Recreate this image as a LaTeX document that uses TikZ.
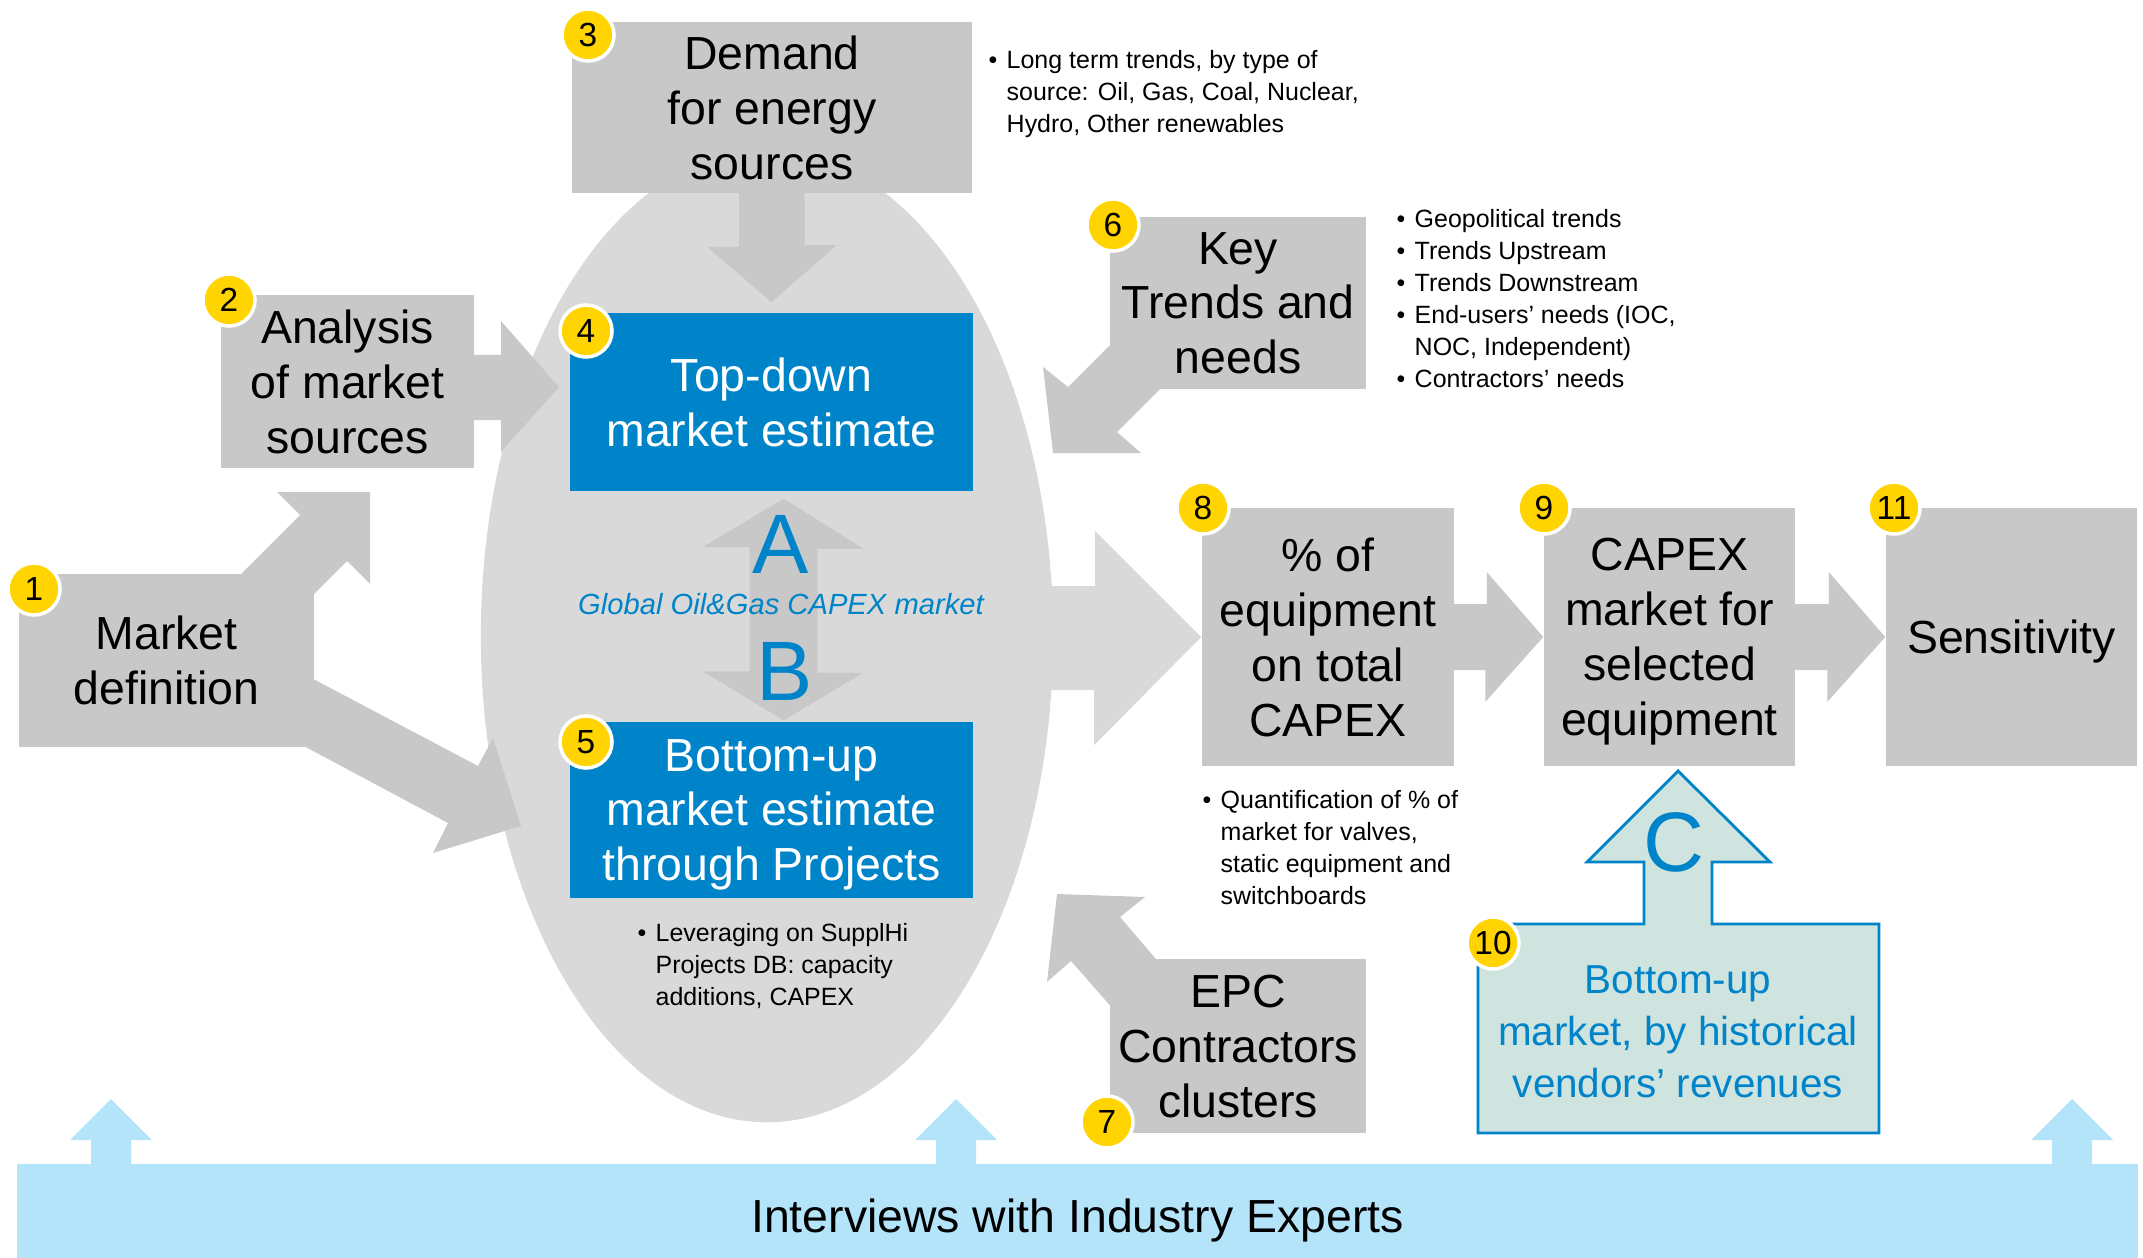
\documentclass[tikz,border=0pt]{standalone}
\usepackage{fontspec}
\setmainfont{Liberation Sans}
\usetikzlibrary{shapes.geometric,calc}

\definecolor{boxgray}{RGB}{200,200,200}
\definecolor{ellgray}{RGB}{217,217,217}
\definecolor{estblue}{RGB}{0,132,201}
\definecolor{numyellow}{RGB}{255,212,0}
\definecolor{bandblue}{RGB}{180,228,250}
\definecolor{tealfill}{RGB}{207,227,223}

\newcommand{\bigtxt}{\fontsize{13.2}{15.6}\selectfont}
\newcommand{\midtxt}{\fontsize{11.5}{14.8}\selectfont}
\newcommand{\notetxt}{\fontsize{7.1}{9.1}\selectfont}
\newcommand{\numtxt}{\fontsize{9.5}{11}\selectfont}
\newcommand{\lettxt}{\fontsize{24}{26}\selectfont}
\newcommand{\itm}{\makebox[0.18cm][l]{\textbullet}}
\newcommand{\ind}{\hspace*{0.18cm}}

\begin{document}
\begin{tikzpicture}[x=0.01cm, y=-0.01cm,
    box/.style={fill=boxgray, inner sep=0, align=center, font=\bigtxt, text depth=0pt},
    estbox/.style={fill=estblue, text=white, inner sep=0, align=center, font=\bigtxt, text depth=0pt},
    num/.style={circle, fill=numyellow, draw=white, line width=1pt, minimum size=0.52cm, inner sep=0, font=\numtxt},
    note/.style={anchor=north west, align=left, inner sep=0, font=\notetxt},
    blk/.style={fill=boxgray},
    lettr/.style={text=estblue, font=\lettxt, inner sep=0}]

    \useasboundingbox (0,0) rectangle (2143,1258);

    % Global estimate (middle)
    \node[ellipse, fill=ellgray, minimum width=5.72cm, minimum height=9.72cm, inner sep=0, outer sep=0] (est) at (767,636) {};

    \node[estbox, minimum width=4.03cm, minimum height=1.78cm] (topdown) at (771.5,402) {Top-down\\market estimate};
    \node[estbox, minimum width=4.03cm, minimum height=1.76cm] (bottomup) at (771.5,810) {Bottom-up\\market estimate\\through Projects};

    \fill[blk] ($(topdown.south)+(12,7)$) -- ++(80,50) -- ++(-46,0) -- ++(0,124) -- ++(46,0)
        -- ($(bottomup.north)+(12,-1)$) -- ++(-81,-49) -- ++(47,0) -- ++(0,-124) -- ++(-47,0) -- cycle;
    \node[lettr] (la) at (781,544) {A};
    \node[lettr] (lb) at (785,671) {B};
    \node[text=estblue, font=\fontsize{8.3}{10}\selectfont\itshape, inner sep=0] (glob) at (781,604) {Global Oil\&Gas CAPEX market};

    % Block arrows
    \fill[blk] (241,600) -- (241,574) -- (300,515) -- (277,492) -- (370,492) -- (370,584) -- (347,561) -- (314,594) -- (300,600) -- cycle;
    \fill[blk] (300,672) -- (478,766) -- (493,738) -- (521,826) -- (433,853) -- (448,823) -- (300,744) -- cycle;
    \fill[blk] (460,355) -- (501,355) -- (501,321) -- (559,387) -- (501,452) -- (501,420) -- (460,420) -- cycle;
    \fill[blk] (1120,335) -- (1068,387) -- (1043,367) -- (1053,453) -- (1141,453) -- (1117,432) -- (1170,379) -- cycle;
    \fill[blk] (1057,894) -- (1145,897) -- (1120,917) -- (1174,980) -- (1128,1026) -- (1071,961) -- (1047,982) -- cycle;

    % Boxes
    \node[box, minimum width=2.95cm, minimum height=1.73cm] (mdef) at (166.5,660.5) {Market\\definition};
    \node[box, minimum width=2.53cm, minimum height=1.73cm] (anal) at (347.5,381.5) {Analysis\\of market\\sources};
    \node[box, minimum width=4.00cm, minimum height=1.71cm] (demand) at (772,107.5) {Demand\\for energy\\sources};
    \node[box, minimum width=2.56cm, minimum height=1.72cm] (key) at (1238,303) {Key\\Trends and\\needs};
    \node[box, minimum width=2.56cm, minimum height=1.74cm] (epc) at (1238,1046) {EPC\\Contractors\\clusters};
    \node[box, minimum width=2.52cm, minimum height=2.58cm] (pct) at (1328,637) {\% of\\equipment\\on total\\CAPEX};
    \node[box, minimum width=2.51cm, minimum height=2.58cm] (capex) at (1669.5,637) {CAPEX\\market for\\selected\\equipment};
    \node[box, minimum width=2.51cm, minimum height=2.58cm] (sens) at (2011.5,637) {Sensitivity};

    \fill[blk] (demand.south) ++(-33,-5) -- ++(0,58) -- ++(-32,0) -- ($(topdown.north)+(0,-10)$) -- ++(65,-57) -- ++(-32,0) -- ++(0,-58) -- cycle;
    \fill[ellgray] (est.east) ++(-50,-50) -- ++(92,0) -- ++(0,-55) -- (pct.west) -- ++(-107,108) -- ++(0,-55) -- ++(-92,0) -- cycle;
    \fill[blk] (pct.east) ++(-10,-33) -- ++(42,0) -- ++(0,-32) -- (capex.west) -- ++(-58,65) -- ++(0,-32) -- ++(-42,0) -- cycle;
    \fill[blk] (capex.east) ++(-10,-33) -- ++(43,0) -- ++(0,-32) -- (sens.west) -- ++(-58,65) -- ++(0,-32) -- ++(-43,0) -- cycle;

    % Historical vendors (C)
    \filldraw[fill=tealfill, draw=estblue, line width=0.8pt] (1478,924) -- (1644,924) -- (1644,862) -- (1587,862) -- (1678,771)
        -- (1770,862) -- (1712,862) -- (1712,924) -- (1879,924) -- (1879,1133) -- (1478,1133) -- cycle;
    \node[lettr] (lc) at (1674,842) {C};
    \node[text=estblue, align=center, font=\midtxt, inner sep=0] (hist) at (1678,1032) {Bottom-up\\market, by historical\\vendors' revenues};

    % Notes
    \node[note] (ndemand) at (988,50) {\itm Long term trends, by type of\\\ind source: Oil, Gas, Coal, Nuclear,\\\ind Hydro, Other renewables};
    \node[note] (nkey) at (1396,209) {\itm Geopolitical trends\\\itm Trends Upstream\\\itm Trends Downstream\\\itm End-users' needs (IOC,\\\ind NOC, Independent)\\\itm Contractors' needs};
    \node[note] (nbottom) at (637,923) {\itm Leveraging on SupplHi\\\ind Projects DB: capacity\\\ind additions, CAPEX};
    \node[note] (npct) at (1202,790) {\itm Quantification of \% of\\\ind market for valves,\\\ind static equipment and\\\ind switchboards};

    % Step numbers
    \node[num] (n1) at (34,589) {1};
    \node[num] (n2) at (229,300) {2};
    \node[num] (n3) at (588,35) {3};
    \node[num] (n4) at (586,331) {4};
    \node[num] (n5) at (586,742) {5};
    \node[num] (n6) at (1113,225) {6};
    \node[num] (n7) at (1107,1122) {7};
    \node[num] (n8) at (1203,508) {8};
    \node[num] (n9) at (1544,508) {9};
    \node[num] (n10) at (1493,943) {10};
    \node[num] (n11) at (1894,508) {11};

    % Interviews band
    \node[fill=bandblue, minimum width=21.19cm, minimum height=0.94cm, inner sep=0, font=\bigtxt, text depth=0pt] (band) at (1077.5,1211) {\raisebox{-0.09cm}{Interviews with Industry Experts}};
    \foreach \cx in {111,956,2072}
        \fill[bandblue] (\cx,1099) -- ++(41,41) -- ++(-21,0) -- ++(0,26) -- ++(-40,0) -- ++(0,-26) -- ++(-21,0) -- cycle;

\end{tikzpicture}
\end{document}
